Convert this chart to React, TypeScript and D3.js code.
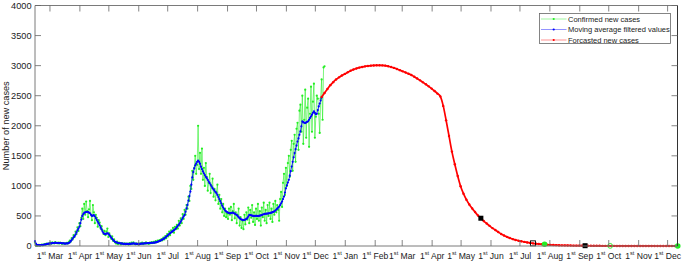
import React from "react";
import * as d3 from "d3";

// ---- data (day index 0 = 2020-02-14 12:00 UTC) ----
const START_UTC = Date.UTC(2020, 1, 14, 12);
const END_UTC = Date.UTC(2021, 11, 11, 6);

const confirmed: number[] = [
  60, 10, 5, 12, 20, 8, 15, 25, 10, 22, 30, 18, 40, 35, 28, 45, 55, 38, 60, 48, 42, 65, 50, 45, 58, 40, 55, 48, 35, 50, 42, 38, 45, 52, 40, 65,
  90, 70, 130, 110, 180, 150, 240, 200, 310, 250, 380, 330, 470,
  620, 450, 700, 520, 740, 580, 480, 610, 750, 520, 430, 680, 560, 380, 520, 470, 320, 430,
  390, 290, 330, 260, 200, 250, 180, 240, 290, 150, 210, 170, 120, 160, 85, 110,
  60, 40, 75, 30, 55, 45, 25, 50, 38, 30, 45, 28, 40, 35, 22, 48, 30, 55, 40, 60, 35, 28, 42, 30, 38, 25, 45, 40, 55, 32, 48, 38, 60, 42, 50, 35, 58, 45,
  65, 48, 70, 55, 80, 62, 90, 75, 100, 85, 115, 95, 140, 110, 165, 130, 200, 160, 240, 180, 260, 230, 300, 220, 320, 280, 350, 290, 420, 340,
  460, 380, 530, 450, 600, 520, 680, 620, 820, 750, 1000, 950, 1250, 1100, 1300, 1500, 1200, 1350, 2000,
  1280, 1550, 1200, 1620, 1100, 1300, 1000, 1380, 1150, 920, 1050, 1200, 880, 1000, 1120, 820, 950, 760, 900, 1020, 700, 850, 620, 780, 560, 700, 500, 620, 480, 540, 450,
  620, 520, 650, 430, 580, 700, 460, 560, 380, 520, 620, 340, 480, 300, 420, 280, 520, 360, 560, 440, 640, 380, 600, 470, 680, 400, 560, 350, 620, 450, 700, 420, 580, 340, 640, 480, 720, 420, 600, 380, 680, 500, 720, 450, 620, 400, 700, 520, 750, 560, 680, 600,
  420, 780, 900, 650, 1050, 1200, 850, 1300, 1000, 1380, 1500, 1150, 1600, 1750, 1250, 1700, 1850, 1400, 1950, 2050, 1600, 2250, 2350, 1900, 2500,
  1700, 2100, 2600, 1800, 2300, 2450, 1650, 2200, 2650, 1900, 2400, 2700, 1800, 2150, 2500, 2450, 2200, 1880, 2450, 2770, 2100, 2970, 2990,
];

const movingAverage: number[] = [
  80, 40, 20, 15, 15, 14, 15, 16, 18, 20, 24, 28, 32, 35, 38, 40, 42, 45, 48, 50, 52, 53, 52, 50, 49, 50, 50, 48, 46, 44, 42, 40, 40, 42, 45, 48,
  60, 80, 100, 125, 145, 165, 190, 225, 260, 290, 320, 380, 440, 500, 530, 550, 560, 565, 570, 565, 555, 545, 520, 500, 505, 515, 495, 465, 435, 405, 375, 345, 310, 275,
  240, 215, 200, 198, 205, 212, 205, 185, 160, 140, 120, 100, 82, 70, 62, 55, 50, 46, 44, 42, 40, 38, 37, 36, 35, 35, 34, 34, 35, 36, 38, 40, 42, 40, 38, 36, 35, 34, 35, 36,
  38, 40, 41, 42, 44, 45, 46, 47, 48, 50, 52, 53, 54, 55, 57, 60, 64, 70, 76, 83, 90, 98, 107, 117, 128, 140, 155, 170, 185, 200, 214, 226, 238, 250, 264, 278, 295, 315, 335, 355,
  378, 405, 435, 465, 492, 517, 570, 625, 683, 755, 830, 905, 1020, 1140, 1230, 1290, 1340, 1370, 1400, 1420, 1400, 1370, 1320, 1280, 1240, 1210, 1180, 1150, 1128, 1100,
  1072, 1045, 1018, 990, 962, 940, 920, 898, 878, 850, 815, 780, 745, 710, 670, 640, 615, 590, 575, 565, 555, 548, 545, 548, 552, 555, 548, 538, 528, 517, 500, 480, 462, 450, 440,
  435, 432, 433, 440, 450, 462, 490, 517, 515, 510, 505, 500, 498, 500, 502, 500, 498, 500, 505, 510, 515, 522, 528, 533, 536, 538, 540, 543, 545, 550, 555, 562, 568, 575, 590,
  605, 620, 638, 655, 680, 710, 739, 780, 822, 890, 960, 1010, 1055, 1100, 1170, 1245, 1322, 1400, 1475, 1545, 1610, 1670, 1738, 1790, 1850, 1905, 1990, 2072, 2060, 2050,
  2045, 2055, 2065, 2075, 2100, 2130, 2155, 2185, 2215, 2238, 2215, 2190, 2200, 2260, 2322, 2370, 2420, 2470,
];

// forecast: every 3 days starting at day 297
const forecastStart = 297;
const forecastStep = 3;
const forecast: number[] = [
  2480, 2545, 2610, 2675, 2725, 2770, 2805, 2835, 2862, 2888, 2915, 2935, 2952, 2967, 2978, 2988, 2995, 3000, 3003, 3005, 3005,
  3004, 3000, 2990, 2978, 2962, 2943, 2925, 2905, 2885, 2865, 2845, 2815, 2785, 2755, 2722, 2690, 2655, 2618, 2578, 2535, 2488,
  2330, 2090, 1830, 1570, 1360, 1165, 995, 870, 770, 690, 625, 565, 508, 460, 415, 375, 335, 298, 265, 232, 200, 175, 152, 132,
  115, 100, 88, 78, 68, 59, 51, 44, 38, 33, 29, 25, 21, 18, 16, 14, 12, 11, 10, 9, 8, 7, 6, 6, 5, 5, 4, 4, 3, 3, 3, 2, 2, 2, 2, 2, 1,
  1, 1, 1, 1, 1, 1, 1, 1, 1, 1, 1, 1, 0, 0, 0, 0, 0, 0, 0, 0, 0,
];

const markerDays = [462, 516, 528, 570, 596, 666];
const markerValues = [462, 44, 28, 5, 2, 0];
const markerKinds = ["square", "squareOpen", "circle", "square", "circleOpen", "circle"];

const yTicks = [0, 500, 1000, 1500, 2000, 2500, 3000, 3500, 4000];
const tickMonths = [
  "2020-03-01", "2020-04-01", "2020-05-01", "2020-06-01", "2020-07-01", "2020-08-01", "2020-09-01", "2020-10-01",
  "2020-11-01", "2020-12-01", "2021-01-01", "2021-02-01", "2021-03-01", "2021-04-01", "2021-05-01", "2021-06-01",
  "2021-07-01", "2021-08-01", "2021-09-01", "2021-10-01", "2021-11-01", "2021-12-01",
];

const legendLabels = ["Confirmed new cases", "Moving average filtered values", "Forcasted new cases"];

const GREEN = "#22ee22";
const BLUE = "#0000ff";
const RED = "#ff0000";
const FONT = "'Liberation Sans', Arial, Helvetica, sans-serif";

const W = 685;
const H = 263;
const M = { left: 35, right: 677.5, top: 5.5, bottom: 246 };

const dayToDate = (d: number) => new Date(START_UTC + d * 864e5);

export default function App() {
  const x = d3.scaleUtc().domain([new Date(START_UTC), new Date(END_UTC)]).range([M.left, M.right]);
  const y = d3.scaleLinear().domain([0, 4000]).range([M.bottom, M.top]);

  const line = d3
    .line<[number, number]>()
    .x((p) => x(dayToDate(p[0])))
    .y((p) => y(p[1]));
  const smooth = d3
    .line<[number, number]>()
    .x((p) => x(dayToDate(p[0])))
    .y((p) => y(p[1]))
    .curve(d3.curveMonotoneX);

  const confPts: [number, number][] = confirmed.map((v, i) => [i, v]);
  const maPts: [number, number][] = movingAverage.map((v, i) => [i, v]);
  const fcPts: [number, number][] = forecast.map((v, i) => [forecastStart + i * forecastStep, v]);

  const ticks = tickMonths.map((s) => new Date(s + "T00:00:00Z"));
  const fmtMonth = d3.utcFormat("%b");
  const axisColor = "#7a7a7a";
  const tickColor = "#666";
  const tl = 6;

  return (
    <svg width={W} height={H} style={{ position: "absolute", left: 0, top: 0, background: "#fff" }} fontFamily={FONT}>
      <rect x={0} y={0} width={W} height={H} fill="#fff" />
      {/* data */}
      <path d={line(confPts) || ""} fill="none" stroke={GREEN} strokeWidth={0.6} />
      {confPts.map((p, i) => (
        <circle key={"c" + i} cx={x(dayToDate(p[0]))} cy={y(p[1])} r={1.1} fill={GREEN} />
      ))}
      <path d={line(maPts) || ""} fill="none" stroke={BLUE} strokeWidth={0.8} />
      {maPts.map((p, i) => (
        <circle key={"m" + i} cx={x(dayToDate(p[0]))} cy={y(p[1])} r={1.1} fill={BLUE} />
      ))}
      <path d={smooth(fcPts) || ""} fill="none" stroke={RED} strokeWidth={1.7} />
      {fcPts.map((p, i) => (
        <circle key={"f" + i} cx={x(dayToDate(p[0]))} cy={y(p[1])} r={1.2} fill={RED} />
      ))}
      {markerDays.map((d, i) => {
        const cx = x(dayToDate(d));
        const cy = y(markerValues[i]);
        const k = markerKinds[i];
        if (k === "square") return <rect key={"k" + i} x={cx - 2.5} y={cy - 2.5} width={5} height={5} fill="#000" />;
        if (k === "squareOpen")
          return <rect key={"k" + i} x={cx - 2.5} y={cy - 2.5} width={5} height={5} fill="none" stroke="#000" strokeWidth={0.9} />;
        if (k === "circle") return <circle key={"k" + i} cx={cx} cy={cy} r={2.8} fill={GREEN} />;
        return <circle key={"k" + i} cx={cx} cy={cy} r={2.4} fill="none" stroke={GREEN} strokeWidth={0.9} />;
      })}

      {/* axes box */}
      <line x1={M.left} x2={M.right} y1={M.top} y2={M.top} stroke={axisColor} strokeWidth={1} />
      <line x1={M.left} x2={M.right} y1={M.bottom} y2={M.bottom} stroke={axisColor} strokeWidth={1} />
      <line x1={M.left} x2={M.left} y1={M.top} y2={M.bottom} stroke={axisColor} strokeWidth={1} />
      <line x1={M.right} x2={M.right} y1={M.top} y2={M.bottom} stroke="#333" strokeWidth={1} />

      {/* y ticks */}
      {yTicks.map((t) => (
        <g key={"y" + t}>
          <line x1={M.left} x2={M.left + tl} y1={y(t)} y2={y(t)} stroke={tickColor} strokeWidth={0.8} />
          <line x1={M.right} x2={M.right - tl} y1={y(t)} y2={y(t)} stroke={tickColor} strokeWidth={0.8} />
          <text x={31.5} y={y(t) + 3.2} fontSize={9.2} textAnchor="end" fill="#222">
            {t}
          </text>
        </g>
      ))}

      {/* x ticks */}
      {ticks.map((t, i) => (
        <g key={"x" + i}>
          <line x1={x(t)} x2={x(t)} y1={M.bottom} y2={M.bottom - tl} stroke={tickColor} strokeWidth={0.8} />
          <line x1={x(t)} x2={x(t)} y1={M.top} y2={M.top + tl} stroke={tickColor} strokeWidth={0.8} />
          <text x={x(t)} y={259} fontSize={8.6} textAnchor="middle" fill="#222">
            <tspan>1</tspan>
            <tspan fontSize={5.6} dy={-3.8}>st</tspan>
            <tspan dy={3.8}>{" " + fmtMonth(t)}</tspan>
          </text>
        </g>
      ))}

      <text transform={`translate(8.5,${(M.top + M.bottom) / 2}) rotate(-90)`} fontSize={9.2} textAnchor="middle" fill="#222">
        Number of new cases
      </text>

      {/* legend */}
      <rect x={539.5} y={13.5} width={131} height={30} fill="#fff" stroke="#666" strokeWidth={0.8} />
      {legendLabels.map((lab, i) => {
        const ly = 19 + i * 10.5;
        const col = [GREEN, BLUE, RED][i];
        return (
          <g key={"l" + i}>
            <line x1={541} x2={566.5} y1={ly} y2={ly} stroke={col} strokeWidth={0.6} opacity={0.7} />
            <circle cx={553.7} cy={ly} r={1.1} fill={col} />
            <text x={568} y={ly + 2.7} fontSize={7.5} fill="#222">
              {lab}
            </text>
          </g>
        );
      })}
    </svg>
  );
}
